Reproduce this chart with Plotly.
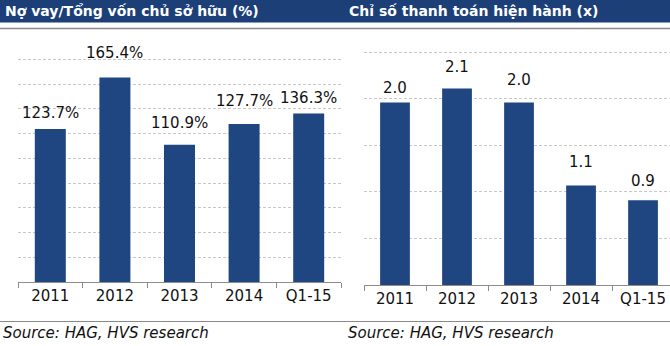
import plotly.graph_objects as go

categories = ["2011", "2012", "2013", "2014", "Q1-15"]
debt_to_equity = [123.7, 165.4, 110.9, 127.7, 136.3]
current_ratio = [1.96, 2.11, 1.96, 1.07, 0.91]
title_left = "Nợ vay/Tổng vốn chủ sở hữu (%)"
title_right = "Chỉ số thanh toán hiện hành (x)"
source_text = "Source: HAG, HVS research"

# label offsets (pixels above bar top, to label centre)
left_offsets = [16, 24, 22, 23, 15]
right_offsets = [15, 22, 23, 23, 19]

W, H = 670, 346
BAR = "#1f4680"
BAND = "#1c3f78"
GRID = "#c8c8c8"
FONT = "DejaVu Sans"

fig = go.Figure()
fig.add_trace(go.Bar(x=categories, y=debt_to_equity, marker_color=BAR,
                     marker_line_width=0, xaxis="x", yaxis="y", hoverinfo="skip"))
fig.add_trace(go.Bar(x=categories, y=current_ratio, marker_color=BAR,
                     marker_line_width=0, xaxis="x2", yaxis="y2", hoverinfo="skip"))

def py(p):
    return 1 - p / H

annotations = []
for i, (v, o) in enumerate(zip(debt_to_equity, left_offsets)):
    annotations.append(dict(x=i, y=v, xref="x", yref="y", text=f"{v:.1f}%",
                            showarrow=False, yanchor="middle", yshift=o,
                            font=dict(family=FONT, size=15, color="#111111")))
for i, (v, o) in enumerate(zip(current_ratio, right_offsets)):
    annotations.append(dict(x=i, y=v, xref="x2", yref="y2", text=f"{v:.1f}",
                            showarrow=False, yanchor="middle", yshift=o,
                            font=dict(family=FONT, size=15, color="#111111")))

annotations += [
    dict(x=3 / W, y=py(11), xref="paper", yref="paper", text=title_left,
         showarrow=False, xanchor="left", yanchor="middle",
         font=dict(family=FONT, size=14, color="white", weight="bold")),
    dict(x=347 / W, y=py(11), xref="paper", yref="paper", text=title_right,
         showarrow=False, xanchor="left", yanchor="middle",
         font=dict(family=FONT, size=14, color="white", weight="bold")),
    dict(x=1 / W, y=py(333), xref="paper", yref="paper", text=f"<i>{source_text}</i>",
         showarrow=False, xanchor="left", yanchor="middle",
         font=dict(family=FONT, size=15, color="#111111")),
    dict(x=346 / W, y=py(333), xref="paper", yref="paper", text=f"<i>{source_text}</i>",
         showarrow=False, xanchor="left", yanchor="middle",
         font=dict(family=FONT, size=15, color="#111111")),
]

shapes = [
    dict(type="rect", xref="paper", yref="paper", x0=0, x1=1, y0=py(22.5), y1=1,
         fillcolor=BAND, line_width=0, layer="below"),
    dict(type="line", xref="paper", yref="paper", x0=0, x1=1, y0=py(28.5), y1=py(28.5),
         line=dict(color="#8a8a8a", width=1.5)),
    dict(type="line", xref="paper", yref="paper", x0=0, x1=1, y0=py(321.5), y1=py(321.5),
         line=dict(color="#8a8a8a", width=1)),
]

axis_common = dict(type="category", showline=True, linecolor="#8c8c8c", linewidth=1,
                   ticks="outside", tickson="boundaries", ticklen=5, tickcolor="#8c8c8c",
                   showgrid=False, tickfont=dict(family=FONT, size=15, color="#111111"),
                   fixedrange=True)

fig.update_layout(
    width=W, height=H, margin=dict(l=0, r=0, t=0, b=0),
    paper_bgcolor="white", plot_bgcolor="white", showlegend=False,
    bargap=0.52,
    xaxis=dict(domain=[18 / W, 341 / W], range=[-0.5, 4.5], anchor="y", **axis_common),
    yaxis=dict(domain=[py(282), py(47)], range=[0, 190], dtick=20, showticklabels=False,
               showgrid=True, gridcolor=GRID, griddash="3px,2px", gridwidth=1,
               zeroline=False, showline=False, fixedrange=True),
    xaxis2=dict(domain=[364 / W, 1], range=[-0.5, 4.435], anchor="y2", **axis_common),
    yaxis2=dict(domain=[py(285), py(43)], range=[0, 2.6], dtick=0.5, showticklabels=False,
                showgrid=True, gridcolor=GRID, griddash="3px,2px", gridwidth=1,
                zeroline=False, showline=False, fixedrange=True, anchor="x2"),
    annotations=annotations, shapes=shapes,
)

fig.write_html("out.html", config=dict(displayModeBar=False))
